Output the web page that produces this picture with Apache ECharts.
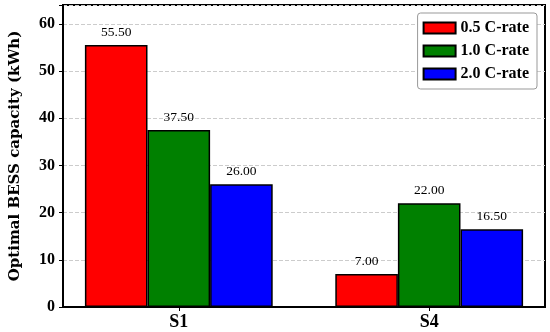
<!DOCTYPE html>
<html>
<head>
<meta charset="utf-8">
<script src="https://cdn.jsdelivr.net/npm/echarts@6/dist/echarts.min.js"></script>
<style>html,body{margin:0;padding:0;background:#fff}#c{width:550px;height:332px}</style>
</head>
<body>
<div id="c"></div>
<script>
const categories = ['S1', 'S4'];
const seriesNames = ['0.5 C-rate', '1.0 C-rate', '2.0 C-rate'];
const rate05 = [55.5, 7.0];
const rate10 = [37.5, 22.0];
const rate20 = [26.0, 16.5];
const colors = ['#ff0000', '#008000', '#0000ff'];
const yTicks = [0, 10, 20, 30, 40, 50, 60];

const FONT = '"Liberation Serif", "DejaVu Serif", serif';
const chart = echarts.init(document.getElementById('c'), null, {renderer: 'canvas'});
const values = [rate05, rate10, rate20];
const series = seriesNames.map((name, i) => ({
  name: name,
  type: 'bar',
  barWidth: 62.6,
  barGap: '0%',
  data: values[i].map((v, j) => [j, v]),
  itemStyle: {color: colors[i], borderColor: '#000', borderWidth: 1.5},
  label: {
    show: true, position: 'top', distance: 6,
    fontFamily: FONT, fontSize: 13.5, color: '#000',
    formatter: p => p.value[1].toFixed(2)
  },
  emphasis: {disabled: true}
}));

chart.setOption({
  animation: false,
  textStyle: {fontFamily: FONT},
  grid: {left: 63, top: 5, right: 5, bottom: 25, show: true, borderColor: '#000', borderWidth: 2, backgroundColor: 'transparent'},
  legend: {
    orient: 'vertical', right: 13, top: 13,
    icon: 'rect',
    itemWidth: 32, itemHeight: 11, itemGap: 7,
    padding: [7, 8, 7, 5],
    borderColor: '#999', borderWidth: 1, borderRadius: 3, backgroundColor: '#fff',
    textStyle: {fontFamily: FONT, fontSize: 16, fontWeight: 'bold', color: '#000'},
    data: seriesNames
  },
  xAxis: {
    type: 'value', min: -0.4625, max: 1.4625,
    splitLine: {show: false},
    axisLine: {show: true, onZero: false, lineStyle: {color: '#000', width: 2}},
    axisTick: {show: true, customValues: [0, 1], length: 4, lineStyle: {color: '#000'}},
    axisLabel: {customValues: [0, 1], formatter: v => categories[Math.round(v)], fontFamily: FONT, fontSize: 18, fontWeight: 'bold', color: '#000', margin: 6}
  },
  yAxis: {
    type: 'value', min: 0, max: 64, interval: 10,
    name: 'Optimal BESS capacity (kWh)', nameLocation: 'middle', nameGap: 40,
    nameTextStyle: {fontFamily: '"DejaVu Serif", serif', fontSize: 15, fontWeight: 'bold', color: '#000'},
    axisLine: {show: true, onZero: false, lineStyle: {color: '#000', width: 2}},
    axisTick: {show: true, length: 4, lineStyle: {color: '#000'}},
    axisLabel: {fontFamily: FONT, fontSize: 16, fontWeight: 'bold', color: '#000', margin: 8,
      formatter: v => yTicks.includes(v) ? String(v) : ''},
    splitLine: {show: true, lineStyle: {color: '#ccc', type: 'dashed', width: 1}}
  },
  series: series
});
</script>
</body>
</html>
